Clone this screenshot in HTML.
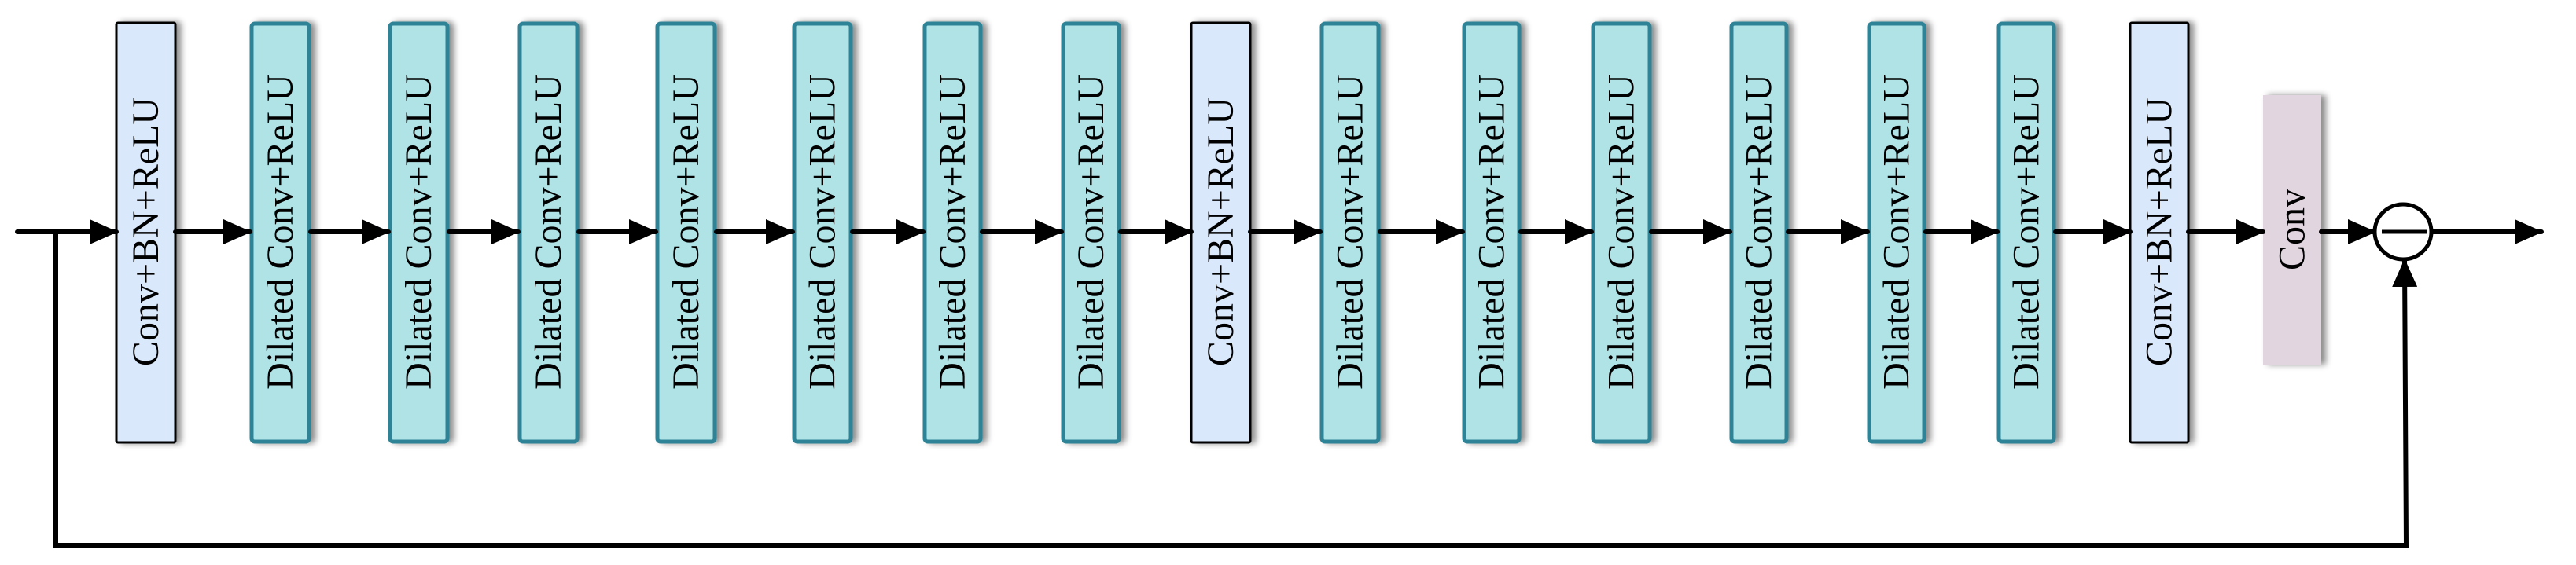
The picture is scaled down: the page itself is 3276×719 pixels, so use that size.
<!DOCTYPE html>
<html><head><meta charset="utf-8"><style>
html,body{margin:0;padding:0;background:#fff;}
svg{display:block;}
text{font-family:"Liberation Serif",serif;font-size:48px;fill:#000;}
</style></head><body>
<svg width="3276" height="719" viewBox="0 0 3276 719" xmlns="http://www.w3.org/2000/svg">
<defs>
<filter id="sh" x="-30%" y="-10%" width="160%" height="120%">
<feDropShadow dx="6" dy="0" stdDeviation="4" flood-color="#000" flood-opacity="0.45"/>
</filter>
<marker id="ah" markerWidth="36" markerHeight="32" refX="34" refY="16" orient="auto" markerUnits="userSpaceOnUse">
<path d="M0,0 L36,16 L0,32 Z" fill="#000"/>
</marker>
</defs>
<g filter="url(#sh)">
<rect x="148" y="29" width="75" height="534" fill="#dae8fc" stroke="#000" stroke-width="3" rx="2"/>
<rect x="1515" y="29" width="75" height="534" fill="#dae8fc" stroke="#000" stroke-width="3" rx="2"/>
<rect x="2709" y="29" width="74" height="534" fill="#dae8fc" stroke="#000" stroke-width="3" rx="2"/>
<rect x="2878" y="121" width="74" height="343" fill="#e1d5e0"/>
</g>
<g filter="url(#sh)" fill="#b0e3e6" stroke="#2f8496" stroke-width="5">
<rect x="320" y="30" width="73" height="532" rx="4"/>
<rect x="496" y="30" width="73" height="532" rx="4"/>
<rect x="661" y="30" width="73" height="532" rx="4"/>
<rect x="836" y="30" width="73" height="532" rx="4"/>
<rect x="1010" y="30" width="72" height="532" rx="4"/>
<rect x="1176" y="30" width="71" height="532" rx="4"/>
<rect x="1352" y="30" width="71" height="532" rx="4"/>
<rect x="1681" y="30" width="72" height="532" rx="4"/>
<rect x="1862" y="30" width="70" height="532" rx="4"/>
<rect x="2026" y="30" width="72" height="532" rx="4"/>
<rect x="2202" y="30" width="70" height="532" rx="4"/>
<rect x="2377" y="30" width="70" height="532" rx="4"/>
<rect x="2542" y="30" width="70" height="532" rx="4"/>
</g>
<g text-anchor="middle" dominant-baseline="central">
<text transform="translate(185.5,295) rotate(-90)">Conv+BN+ReLU</text>
<text transform="translate(1552.5,295) rotate(-90)">Conv+BN+ReLU</text>
<text transform="translate(2746,295) rotate(-90)">Conv+BN+ReLU</text>
<text transform="translate(2915,292) rotate(-90)">Conv</text>
<text transform="translate(356.5,295) rotate(-90)">Dilated Conv+ReLU</text>
<text transform="translate(532.5,295) rotate(-90)">Dilated Conv+ReLU</text>
<text transform="translate(697.5,295) rotate(-90)">Dilated Conv+ReLU</text>
<text transform="translate(872.5,295) rotate(-90)">Dilated Conv+ReLU</text>
<text transform="translate(1046,295) rotate(-90)">Dilated Conv+ReLU</text>
<text transform="translate(1211.5,295) rotate(-90)">Dilated Conv+ReLU</text>
<text transform="translate(1387.5,295) rotate(-90)">Dilated Conv+ReLU</text>
<text transform="translate(1717,295) rotate(-90)">Dilated Conv+ReLU</text>
<text transform="translate(1897,295) rotate(-90)">Dilated Conv+ReLU</text>
<text transform="translate(2062,295) rotate(-90)">Dilated Conv+ReLU</text>
<text transform="translate(2237,295) rotate(-90)">Dilated Conv+ReLU</text>
<text transform="translate(2412,295) rotate(-90)">Dilated Conv+ReLU</text>
<text transform="translate(2577,295) rotate(-90)">Dilated Conv+ReLU</text>
</g>
<g stroke="#000" stroke-width="6" fill="none" marker-end="url(#ah)" stroke-linecap="round">
<line x1="22" y1="295" x2="148" y2="295"/>
<line x1="223" y1="295" x2="318" y2="295"/>
<line x1="395" y1="295" x2="494" y2="295"/>
<line x1="571" y1="295" x2="659" y2="295"/>
<line x1="736" y1="295" x2="834" y2="295"/>
<line x1="911" y1="295" x2="1008" y2="295"/>
<line x1="1084" y1="295" x2="1174" y2="295"/>
<line x1="1249" y1="295" x2="1350" y2="295"/>
<line x1="1425" y1="295" x2="1515" y2="295"/>
<line x1="1590" y1="295" x2="1679" y2="295"/>
<line x1="1755" y1="295" x2="1860" y2="295"/>
<line x1="1934" y1="295" x2="2024" y2="295"/>
<line x1="2100" y1="295" x2="2200" y2="295"/>
<line x1="2274" y1="295" x2="2375" y2="295"/>
<line x1="2449" y1="295" x2="2540" y2="295"/>
<line x1="2614" y1="295" x2="2709" y2="295"/>
<line x1="2783" y1="295" x2="2878" y2="295"/>
<line x1="2952" y1="295" x2="3020" y2="295"/>
<line x1="3092" y1="295" x2="3232" y2="295"/>
<polyline points="71,295 71,694 3060,694 3058,331"/>
</g>
<ellipse cx="3056" cy="295" rx="36" ry="35" fill="#fff" stroke="#000" stroke-width="5"/>
<line x1="3029" y1="295" x2="3087" y2="295" stroke="#000" stroke-width="5"/>
</svg>
</body></html>
